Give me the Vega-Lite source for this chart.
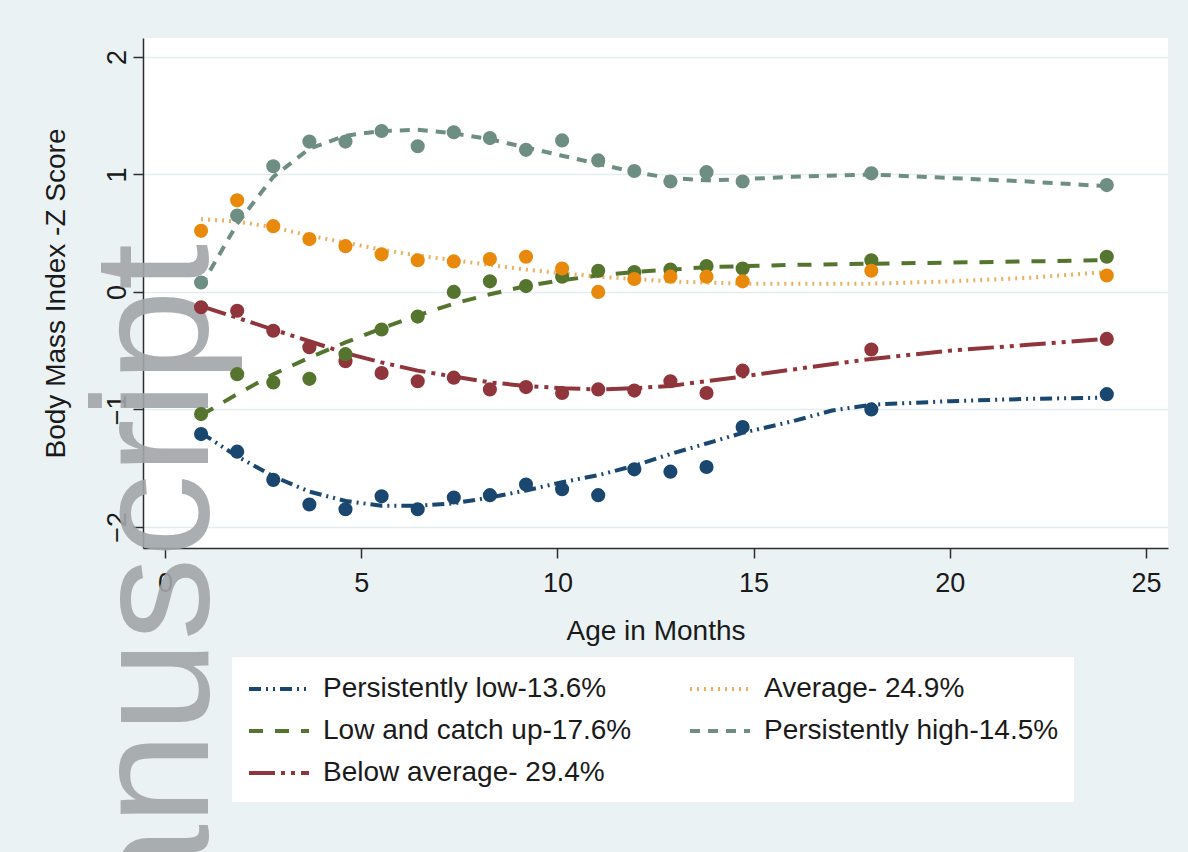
{
  "$schema": "https://vega.github.io/schema/vega-lite/v6.json",
  "width": 1025,
  "height": 510,
  "autosize": {"type": "none"},
  "padding": {"left": 143, "top": 38, "right": 20, "bottom": 304},
  "background": "#eaf2f3",
  "config": {
    "view": {"fill": "white", "stroke": null},
    "font": "Liberation Sans",
    "axis": {
      "domainColor": "#2e2e2e",
      "domainWidth": 1.5,
      "tickColor": "#2e2e2e",
      "tickWidth": 1.5,
      "tickSize": 10,
      "labelFont": "Liberation Sans",
      "labelFontSize": 27,
      "labelColor": "#1a1a1a",
      "titleFont": "Liberation Sans",
      "titleFontSize": 28,
      "titleFontWeight": "normal",
      "titleColor": "#1a1a1a",
      "gridColor": "#e3ecee",
      "gridWidth": 1.5
    }
  },
  "datasets": {
    "points": [
      {"g": "Persistently low-13.6%", "age": 0.92, "z": -1.21},
      {"g": "Persistently low-13.6%", "age": 1.84, "z": -1.36},
      {"g": "Persistently low-13.6%", "age": 2.76, "z": -1.6},
      {"g": "Persistently low-13.6%", "age": 3.68, "z": -1.81},
      {"g": "Persistently low-13.6%", "age": 4.6, "z": -1.85},
      {"g": "Persistently low-13.6%", "age": 5.52, "z": -1.74},
      {"g": "Persistently low-13.6%", "age": 6.44, "z": -1.85},
      {"g": "Persistently low-13.6%", "age": 7.36, "z": -1.75},
      {"g": "Persistently low-13.6%", "age": 8.28, "z": -1.73},
      {"g": "Persistently low-13.6%", "age": 9.2, "z": -1.64},
      {"g": "Persistently low-13.6%", "age": 10.12, "z": -1.68},
      {"g": "Persistently low-13.6%", "age": 11.04, "z": -1.73},
      {"g": "Persistently low-13.6%", "age": 11.96, "z": -1.51},
      {"g": "Persistently low-13.6%", "age": 12.88, "z": -1.53},
      {"g": "Persistently low-13.6%", "age": 13.8, "z": -1.49},
      {"g": "Persistently low-13.6%", "age": 14.72, "z": -1.15},
      {"g": "Persistently low-13.6%", "age": 18, "z": -1.0},
      {"g": "Persistently low-13.6%", "age": 24, "z": -0.87},
      {"g": "Below average- 29.4%", "age": 0.92, "z": -0.13},
      {"g": "Below average- 29.4%", "age": 1.84, "z": -0.16},
      {"g": "Below average- 29.4%", "age": 2.76, "z": -0.33},
      {"g": "Below average- 29.4%", "age": 3.68, "z": -0.47},
      {"g": "Below average- 29.4%", "age": 4.6, "z": -0.59},
      {"g": "Below average- 29.4%", "age": 5.52, "z": -0.69},
      {"g": "Below average- 29.4%", "age": 6.44, "z": -0.76},
      {"g": "Below average- 29.4%", "age": 7.36, "z": -0.73},
      {"g": "Below average- 29.4%", "age": 8.28, "z": -0.83},
      {"g": "Below average- 29.4%", "age": 9.2, "z": -0.81},
      {"g": "Below average- 29.4%", "age": 10.12, "z": -0.86},
      {"g": "Below average- 29.4%", "age": 11.04, "z": -0.83},
      {"g": "Below average- 29.4%", "age": 11.96, "z": -0.84},
      {"g": "Below average- 29.4%", "age": 12.88, "z": -0.76},
      {"g": "Below average- 29.4%", "age": 13.8, "z": -0.86},
      {"g": "Below average- 29.4%", "age": 14.72, "z": -0.67},
      {"g": "Below average- 29.4%", "age": 18, "z": -0.49},
      {"g": "Below average- 29.4%", "age": 24, "z": -0.4},
      {"g": "Low and catch up-17.6%", "age": 0.92, "z": -1.04},
      {"g": "Low and catch up-17.6%", "age": 1.84, "z": -0.7},
      {"g": "Low and catch up-17.6%", "age": 2.76, "z": -0.77},
      {"g": "Low and catch up-17.6%", "age": 3.68, "z": -0.74},
      {"g": "Low and catch up-17.6%", "age": 4.6, "z": -0.53},
      {"g": "Low and catch up-17.6%", "age": 5.52, "z": -0.32},
      {"g": "Low and catch up-17.6%", "age": 6.44, "z": -0.21},
      {"g": "Low and catch up-17.6%", "age": 7.36, "z": 0.0},
      {"g": "Low and catch up-17.6%", "age": 8.28, "z": 0.09},
      {"g": "Low and catch up-17.6%", "age": 9.2, "z": 0.05},
      {"g": "Low and catch up-17.6%", "age": 10.12, "z": 0.13},
      {"g": "Low and catch up-17.6%", "age": 11.04, "z": 0.18},
      {"g": "Low and catch up-17.6%", "age": 11.96, "z": 0.17},
      {"g": "Low and catch up-17.6%", "age": 12.88, "z": 0.19},
      {"g": "Low and catch up-17.6%", "age": 13.8, "z": 0.22},
      {"g": "Low and catch up-17.6%", "age": 14.72, "z": 0.2},
      {"g": "Low and catch up-17.6%", "age": 18, "z": 0.27},
      {"g": "Low and catch up-17.6%", "age": 24, "z": 0.3},
      {"g": "Average- 24.9%", "age": 0.92, "z": 0.52},
      {"g": "Average- 24.9%", "age": 1.84, "z": 0.78},
      {"g": "Average- 24.9%", "age": 2.76, "z": 0.56},
      {"g": "Average- 24.9%", "age": 3.68, "z": 0.45},
      {"g": "Average- 24.9%", "age": 4.6, "z": 0.39},
      {"g": "Average- 24.9%", "age": 5.52, "z": 0.32},
      {"g": "Average- 24.9%", "age": 6.44, "z": 0.27},
      {"g": "Average- 24.9%", "age": 7.36, "z": 0.26},
      {"g": "Average- 24.9%", "age": 8.28, "z": 0.28},
      {"g": "Average- 24.9%", "age": 9.2, "z": 0.3},
      {"g": "Average- 24.9%", "age": 10.12, "z": 0.2},
      {"g": "Average- 24.9%", "age": 11.04, "z": 0.0},
      {"g": "Average- 24.9%", "age": 11.96, "z": 0.11},
      {"g": "Average- 24.9%", "age": 12.88, "z": 0.13},
      {"g": "Average- 24.9%", "age": 13.8, "z": 0.13},
      {"g": "Average- 24.9%", "age": 14.72, "z": 0.09},
      {"g": "Average- 24.9%", "age": 18, "z": 0.18},
      {"g": "Average- 24.9%", "age": 24, "z": 0.14},
      {"g": "Persistently high-14.5%", "age": 0.92, "z": 0.08},
      {"g": "Persistently high-14.5%", "age": 1.84, "z": 0.65},
      {"g": "Persistently high-14.5%", "age": 2.76, "z": 1.07},
      {"g": "Persistently high-14.5%", "age": 3.68, "z": 1.28},
      {"g": "Persistently high-14.5%", "age": 4.6, "z": 1.28},
      {"g": "Persistently high-14.5%", "age": 5.52, "z": 1.37},
      {"g": "Persistently high-14.5%", "age": 6.44, "z": 1.24},
      {"g": "Persistently high-14.5%", "age": 7.36, "z": 1.36},
      {"g": "Persistently high-14.5%", "age": 8.28, "z": 1.31},
      {"g": "Persistently high-14.5%", "age": 9.2, "z": 1.21},
      {"g": "Persistently high-14.5%", "age": 10.12, "z": 1.29},
      {"g": "Persistently high-14.5%", "age": 11.04, "z": 1.12},
      {"g": "Persistently high-14.5%", "age": 11.96, "z": 1.03},
      {"g": "Persistently high-14.5%", "age": 12.88, "z": 0.94},
      {"g": "Persistently high-14.5%", "age": 13.8, "z": 1.02},
      {"g": "Persistently high-14.5%", "age": 14.72, "z": 0.94},
      {"g": "Persistently high-14.5%", "age": 18, "z": 1.01},
      {"g": "Persistently high-14.5%", "age": 24, "z": 0.91}
    ],
    "lines": [
      {"g": "Persistently low-13.6%", "age": 0.92, "z": -1.2},
      {"g": "Persistently low-13.6%", "age": 1.84, "z": -1.4},
      {"g": "Persistently low-13.6%", "age": 2.76, "z": -1.57},
      {"g": "Persistently low-13.6%", "age": 3.68, "z": -1.7},
      {"g": "Persistently low-13.6%", "age": 4.6, "z": -1.78},
      {"g": "Persistently low-13.6%", "age": 5.52, "z": -1.82},
      {"g": "Persistently low-13.6%", "age": 6.44, "z": -1.82},
      {"g": "Persistently low-13.6%", "age": 7.36, "z": -1.8},
      {"g": "Persistently low-13.6%", "age": 8.28, "z": -1.75},
      {"g": "Persistently low-13.6%", "age": 9.2, "z": -1.69},
      {"g": "Persistently low-13.6%", "age": 10.12, "z": -1.62},
      {"g": "Persistently low-13.6%", "age": 11.04, "z": -1.56},
      {"g": "Persistently low-13.6%", "age": 11.96, "z": -1.48},
      {"g": "Persistently low-13.6%", "age": 12.88, "z": -1.38},
      {"g": "Persistently low-13.6%", "age": 13.8, "z": -1.29},
      {"g": "Persistently low-13.6%", "age": 14.72, "z": -1.2},
      {"g": "Persistently low-13.6%", "age": 16, "z": -1.1},
      {"g": "Persistently low-13.6%", "age": 17, "z": -1.01},
      {"g": "Persistently low-13.6%", "age": 18, "z": -0.96},
      {"g": "Persistently low-13.6%", "age": 20, "z": -0.93},
      {"g": "Persistently low-13.6%", "age": 22, "z": -0.91},
      {"g": "Persistently low-13.6%", "age": 24, "z": -0.9},
      {"g": "Below average- 29.4%", "age": 0.92, "z": -0.12},
      {"g": "Below average- 29.4%", "age": 1.84, "z": -0.22},
      {"g": "Below average- 29.4%", "age": 2.76, "z": -0.32},
      {"g": "Below average- 29.4%", "age": 3.68, "z": -0.42},
      {"g": "Below average- 29.4%", "age": 4.6, "z": -0.52},
      {"g": "Below average- 29.4%", "age": 5.52, "z": -0.6},
      {"g": "Below average- 29.4%", "age": 6.44, "z": -0.67},
      {"g": "Below average- 29.4%", "age": 7.36, "z": -0.72},
      {"g": "Below average- 29.4%", "age": 8.28, "z": -0.77},
      {"g": "Below average- 29.4%", "age": 9.2, "z": -0.8},
      {"g": "Below average- 29.4%", "age": 10.12, "z": -0.82},
      {"g": "Below average- 29.4%", "age": 11.04, "z": -0.83},
      {"g": "Below average- 29.4%", "age": 11.96, "z": -0.82},
      {"g": "Below average- 29.4%", "age": 12.88, "z": -0.8},
      {"g": "Below average- 29.4%", "age": 13.8, "z": -0.76},
      {"g": "Below average- 29.4%", "age": 14.72, "z": -0.72},
      {"g": "Below average- 29.4%", "age": 16, "z": -0.66},
      {"g": "Below average- 29.4%", "age": 18, "z": -0.57},
      {"g": "Below average- 29.4%", "age": 20, "z": -0.5},
      {"g": "Below average- 29.4%", "age": 22, "z": -0.45},
      {"g": "Below average- 29.4%", "age": 24, "z": -0.4},
      {"g": "Low and catch up-17.6%", "age": 0.92, "z": -1.05},
      {"g": "Low and catch up-17.6%", "age": 1.84, "z": -0.87},
      {"g": "Low and catch up-17.6%", "age": 2.76, "z": -0.7},
      {"g": "Low and catch up-17.6%", "age": 3.68, "z": -0.56},
      {"g": "Low and catch up-17.6%", "age": 4.6, "z": -0.43},
      {"g": "Low and catch up-17.6%", "age": 5.52, "z": -0.31},
      {"g": "Low and catch up-17.6%", "age": 6.44, "z": -0.2},
      {"g": "Low and catch up-17.6%", "age": 7.36, "z": -0.1},
      {"g": "Low and catch up-17.6%", "age": 8.28, "z": -0.02},
      {"g": "Low and catch up-17.6%", "age": 9.2, "z": 0.05},
      {"g": "Low and catch up-17.6%", "age": 10.12, "z": 0.1},
      {"g": "Low and catch up-17.6%", "age": 11.04, "z": 0.14},
      {"g": "Low and catch up-17.6%", "age": 11.96, "z": 0.17},
      {"g": "Low and catch up-17.6%", "age": 12.88, "z": 0.19},
      {"g": "Low and catch up-17.6%", "age": 13.8, "z": 0.21},
      {"g": "Low and catch up-17.6%", "age": 14.72, "z": 0.22},
      {"g": "Low and catch up-17.6%", "age": 16, "z": 0.23},
      {"g": "Low and catch up-17.6%", "age": 18, "z": 0.24},
      {"g": "Low and catch up-17.6%", "age": 20, "z": 0.25},
      {"g": "Low and catch up-17.6%", "age": 22, "z": 0.26},
      {"g": "Low and catch up-17.6%", "age": 24, "z": 0.27},
      {"g": "Average- 24.9%", "age": 0.92, "z": 0.62},
      {"g": "Average- 24.9%", "age": 1.84, "z": 0.6},
      {"g": "Average- 24.9%", "age": 2.76, "z": 0.55},
      {"g": "Average- 24.9%", "age": 3.68, "z": 0.48},
      {"g": "Average- 24.9%", "age": 4.6, "z": 0.42},
      {"g": "Average- 24.9%", "age": 5.52, "z": 0.36},
      {"g": "Average- 24.9%", "age": 6.44, "z": 0.31},
      {"g": "Average- 24.9%", "age": 7.36, "z": 0.27},
      {"g": "Average- 24.9%", "age": 8.28, "z": 0.23},
      {"g": "Average- 24.9%", "age": 9.2, "z": 0.19},
      {"g": "Average- 24.9%", "age": 10.12, "z": 0.16},
      {"g": "Average- 24.9%", "age": 11.04, "z": 0.13},
      {"g": "Average- 24.9%", "age": 11.96, "z": 0.11},
      {"g": "Average- 24.9%", "age": 12.88, "z": 0.09},
      {"g": "Average- 24.9%", "age": 13.8, "z": 0.08},
      {"g": "Average- 24.9%", "age": 14.72, "z": 0.07},
      {"g": "Average- 24.9%", "age": 16, "z": 0.07},
      {"g": "Average- 24.9%", "age": 18, "z": 0.07},
      {"g": "Average- 24.9%", "age": 20, "z": 0.09},
      {"g": "Average- 24.9%", "age": 22, "z": 0.12},
      {"g": "Average- 24.9%", "age": 24, "z": 0.17},
      {"g": "Persistently high-14.5%", "age": 0.92, "z": 0.05},
      {"g": "Persistently high-14.5%", "age": 1.84, "z": 0.58},
      {"g": "Persistently high-14.5%", "age": 2.76, "z": 0.98},
      {"g": "Persistently high-14.5%", "age": 3.68, "z": 1.22},
      {"g": "Persistently high-14.5%", "age": 4.6, "z": 1.33},
      {"g": "Persistently high-14.5%", "age": 5.52, "z": 1.37},
      {"g": "Persistently high-14.5%", "age": 6.44, "z": 1.38},
      {"g": "Persistently high-14.5%", "age": 7.36, "z": 1.35},
      {"g": "Persistently high-14.5%", "age": 8.28, "z": 1.3},
      {"g": "Persistently high-14.5%", "age": 9.2, "z": 1.23},
      {"g": "Persistently high-14.5%", "age": 10.12, "z": 1.16},
      {"g": "Persistently high-14.5%", "age": 11.04, "z": 1.09},
      {"g": "Persistently high-14.5%", "age": 11.96, "z": 1.02},
      {"g": "Persistently high-14.5%", "age": 12.88, "z": 0.97},
      {"g": "Persistently high-14.5%", "age": 13.8, "z": 0.95},
      {"g": "Persistently high-14.5%", "age": 14.72, "z": 0.96},
      {"g": "Persistently high-14.5%", "age": 16, "z": 0.98},
      {"g": "Persistently high-14.5%", "age": 18, "z": 1.0},
      {"g": "Persistently high-14.5%", "age": 20, "z": 0.97},
      {"g": "Persistently high-14.5%", "age": 22, "z": 0.94},
      {"g": "Persistently high-14.5%", "age": 24, "z": 0.9}
    ],
    "watermark": [{"t": "manuscript"}]
  },
  "encoding": {
    "x": {
      "type": "quantitative",
      "scale": {"domain": [-0.56, 25.56], "nice": false, "zero": false},
      "axis": {"title": "Age in Months", "values": [0, 5, 10, 15, 20, 25], "grid": false, "labelPadding": 12, "titlePadding": 21, "labelFlush": false}
    },
    "y": {
      "type": "quantitative",
      "scale": {"domain": [-2.18, 2.162], "nice": false, "zero": false},
      "axis": {"title": "Body Mass Index -Z Score", "values": [-2, -1, 0, 1, 2], "grid": true, "labelAngle": -90, "labelAlign": "center", "labelBaseline": "bottom", "labelPadding": 2, "titlePadding": 33, "labelFlush": false}
    }
  },
  "layer": [
    {
      "data": {"name": "watermark"},
      "mark": {"type": "text", "angle": 270, "align": "right", "baseline": "alphabetic", "fontSize": 166, "font": "Liberation Sans", "color": "#a3a6a9", "opacity": 0.9},
      "encoding": {
        "x": {"datum": 1.1},
        "y": {"datum": 0.41},
        "text": {"field": "t", "type": "nominal"}
      }
    },
    {
      "data": {"name": "lines"},
      "mark": {"type": "line", "strokeWidth": 4, "strokeCap": "butt"},
      "encoding": {
        "x": {"field": "age", "type": "quantitative"},
        "y": {"field": "z", "type": "quantitative"},
        "detail": {"field": "g", "type": "nominal"},
        "stroke": {
          "field": "g", "type": "nominal",
          "scale": {
            "domain": ["Persistently low-13.6%", "Low and catch up-17.6%", "Below average- 29.4%", "Average- 24.9%", "Persistently high-14.5%"],
            "range": ["#1a476f", "#55752f", "#90353b", "#e9b060", "#6e8e84"]
          },
          "legend": {
            "title": null,
            "orient": "none",
            "legendX": 89,
            "legendY": 619,
            "columns": 2,
            "columnPadding": 50,
            "rowPadding": 11,
            "padding": 15,
            "fillColor": "white",
            "symbolType": "M-1,0H3",
            "symbolSize": 900,
            "symbolStrokeWidth": 4,
            "labelOffset": 42,
            "labelFontSize": 28,
            "labelFont": "Liberation Sans",
            "labelColor": "#1a1a1a",
            "labelLimit": 500
          }
        },
        "strokeDash": {
          "field": "g", "type": "nominal",
          "scale": {
            "domain": ["Persistently low-13.6%", "Low and catch up-17.6%", "Below average- 29.4%", "Average- 24.9%", "Persistently high-14.5%"],
            "range": [[12, 5, 2, 5, 2, 5], [14, 12], [26, 6, 4, 6, 4, 6], [2, 5], [10, 8]]
          }
        }
      }
    },
    {
      "data": {"name": "points"},
      "mark": {"type": "point", "filled": true, "shape": "circle", "size": 200, "opacity": 1},
      "encoding": {
        "x": {"field": "age", "type": "quantitative"},
        "y": {"field": "z", "type": "quantitative"},
        "fill": {
          "field": "g", "type": "nominal",
          "scale": {
            "domain": ["Persistently low-13.6%", "Low and catch up-17.6%", "Below average- 29.4%", "Average- 24.9%", "Persistently high-14.5%"],
            "range": ["#1a476f", "#55752f", "#90353b", "#e8890c", "#6e8e84"]
          },
          "legend": null
        }
      }
    }
  ]
}
